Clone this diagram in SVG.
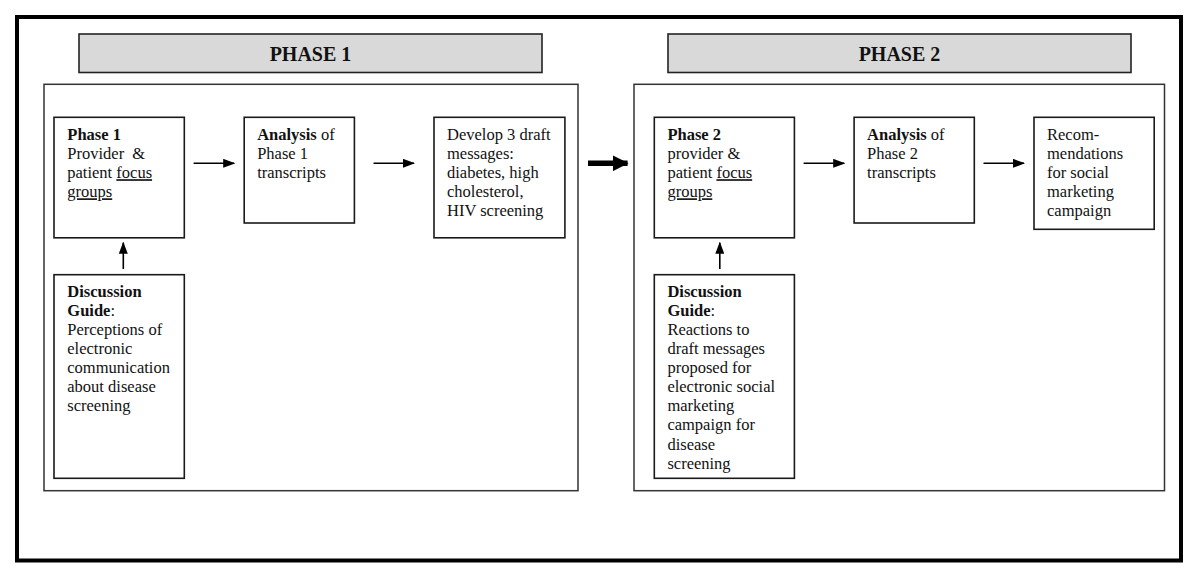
<svg xmlns="http://www.w3.org/2000/svg" width="1200" height="585" viewBox="0 0 1200 585">
<style>
.outer{fill:none;stroke:#000;stroke-width:4}
.hdr{fill:#d9d9d9;stroke:#222;stroke-width:1.6}
.panel{fill:none;stroke:#333;stroke-width:1.5}
.box{fill:#fff;stroke:#1a1a1a;stroke-width:1.6}
.t{font-family:"Liberation Serif","Times New Roman",serif;font-size:16.5px;fill:#111}
.b{font-weight:bold}
.h{font-family:"Liberation Serif","Times New Roman",serif;font-size:20px;font-weight:bold;fill:#111;text-anchor:middle}
.u{text-decoration:underline}
.con{fill:none;stroke:#000;stroke-width:1.6}
.big{fill:none;stroke:#000;stroke-width:5.5}
</style>
<defs>
<marker id="ah" markerUnits="userSpaceOnUse" markerWidth="12" markerHeight="9" refX="11" refY="4.5" orient="auto">
<path d="M0,0 L12,4.5 L0,9 z" fill="#000"/>
</marker>
<marker id="bh" markerUnits="userSpaceOnUse" markerWidth="16" markerHeight="16" refX="15" refY="8" orient="auto">
<path d="M0,0 L16,8 L0,16 z" fill="#000"/>
</marker>
</defs>
<rect width="1200" height="585" fill="#fff"/>
<rect class="outer" x="17" y="17" width="1164" height="543.5"/>

<g id="phase1-header">
<rect class="hdr" x="79" y="34" width="463" height="38.5"/>
<text class="h" x="310.5" y="61">PHASE 1</text>
</g>
<g id="phase2-header">
<rect class="hdr" x="668" y="34" width="463" height="38.5"/>
<text class="h" x="899.5" y="61">PHASE 2</text>
</g>

<g id="phase1-panel">
<rect class="panel" x="44" y="84.3" width="534" height="406.4"/>
</g>
<g id="phase2-panel">
<rect class="panel" x="634" y="84.3" width="530.5" height="406.4"/>
</g>

<g id="p1-focus">
<rect class="box" x="54" y="117.3" width="130.3" height="120.5"/>
<text class="t" x="67.3" y="140"><tspan class="b">Phase 1</tspan><tspan x="67.3" dy="19.1">Provider&#160; &amp;</tspan><tspan x="67.3" dy="19.1">patient <tspan class="u">focus</tspan></tspan><tspan x="67.3" dy="19.1" class="u">groups</tspan></text>
</g>
<g id="p1-analysis">
<rect class="box" x="244.2" y="117.3" width="110.2" height="105.7"/>
<text class="t" x="257.2" y="140"><tspan class="b">Analysis</tspan> of<tspan x="257.2" dy="19.1">Phase 1</tspan><tspan x="257.2" dy="19.1">transcripts</tspan></text>
</g>
<g id="p1-develop">
<rect class="box" x="434" y="117.3" width="130.9" height="120.5"/>
<text class="t" x="447" y="140">Develop 3 draft<tspan x="447" dy="19.1">messages:</tspan><tspan x="447" dy="19.1">diabetes, high</tspan><tspan x="447" dy="19.1">cholesterol,</tspan><tspan x="447" dy="19.1">HIV screening</tspan></text>
</g>
<g id="p1-guide">
<rect class="box" x="54" y="274.7" width="130.3" height="203.6"/>
<text class="t" x="67.3" y="296.7"><tspan class="b">Discussion</tspan><tspan x="67.3" dy="19.1"><tspan class="b">Guide</tspan>:</tspan><tspan x="67.3" dy="19.1">Perceptions of</tspan><tspan x="67.3" dy="19.1">electronic</tspan><tspan x="67.3" dy="19.1">communication</tspan><tspan x="67.3" dy="19.1">about disease</tspan><tspan x="67.3" dy="19.1">screening</tspan></text>
</g>

<g id="p2-focus">
<rect class="box" x="654.3" y="117.3" width="140.1" height="120.5"/>
<text class="t" x="667.4" y="140"><tspan class="b">Phase 2</tspan><tspan x="667.4" dy="19.1">provider &amp;</tspan><tspan x="667.4" dy="19.1">patient <tspan class="u">focus</tspan></tspan><tspan x="667.4" dy="19.1" class="u">groups</tspan></text>
</g>
<g id="p2-analysis">
<rect class="box" x="854.1" y="117.3" width="120.2" height="105.7"/>
<text class="t" x="867.1" y="140"><tspan class="b">Analysis</tspan> of<tspan x="867.1" dy="19.1">Phase 2</tspan><tspan x="867.1" dy="19.1">transcripts</tspan></text>
</g>
<g id="p2-recommend">
<rect class="box" x="1034" y="117.3" width="120.2" height="112"/>
<text class="t" x="1047" y="140">Recom-<tspan x="1047" dy="19.1">mendations</tspan><tspan x="1047" dy="19.1">for social</tspan><tspan x="1047" dy="19.1">marketing</tspan><tspan x="1047" dy="19.1">campaign</tspan></text>
</g>
<g id="p2-guide">
<rect class="box" x="654.3" y="274.7" width="140.1" height="203.6"/>
<text class="t" x="667.4" y="296.7"><tspan class="b">Discussion</tspan><tspan x="667.4" dy="19.1"><tspan class="b">Guide</tspan>:</tspan><tspan x="667.4" dy="19.1">Reactions to</tspan><tspan x="667.4" dy="19.1">draft messages</tspan><tspan x="667.4" dy="19.1">proposed for</tspan><tspan x="667.4" dy="19.1">electronic social</tspan><tspan x="667.4" dy="19.1">marketing</tspan><tspan x="667.4" dy="19.1">campaign for</tspan><tspan x="667.4" dy="19.1">disease</tspan><tspan x="667.4" dy="19.1">screening</tspan></text>
</g>

<g id="connectors">
<line class="con" x1="193.6" y1="163.3" x2="234.2" y2="163.3" marker-end="url(#ah)"/>
<line class="con" x1="373.5" y1="163.3" x2="414" y2="163.3" marker-end="url(#ah)"/>
<line class="con" x1="123.3" y1="269" x2="123.3" y2="242.7" marker-end="url(#ah)"/>
<line class="big" x1="588" y1="163.3" x2="627.6" y2="163.3" marker-end="url(#bh)"/>
<line class="con" x1="803.6" y1="163.3" x2="844.2" y2="163.3" marker-end="url(#ah)"/>
<line class="con" x1="983.5" y1="163.3" x2="1024" y2="163.3" marker-end="url(#ah)"/>
<line class="con" x1="719.8" y1="269" x2="719.8" y2="242.7" marker-end="url(#ah)"/>
</g>
</svg>
